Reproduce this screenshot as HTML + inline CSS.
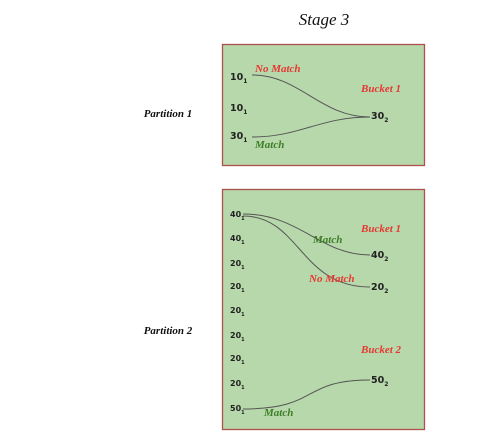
<!DOCTYPE html>
<html><head><meta charset="utf-8"><style>
html,body{margin:0;padding:0;background:#fff;width:501px;height:446px;overflow:hidden}
.sc{font-family:"Liberation Serif",serif;font-style:italic;font-weight:bold}
.n{font-family:"DejaVu Sans","Liberation Sans",sans-serif;font-weight:bold;fill:#222}
</style></head><body>
<svg width="501" height="446" viewBox="0 0 501 446">
<text x="324" y="25" text-anchor="middle" class="sc" font-size="17" fill="#111" style="font-weight:normal">Stage 3</text>
<text x="168" y="117" text-anchor="middle" class="sc" font-size="11" fill="#111">Partition 1</text>
<text x="168" y="334" text-anchor="middle" class="sc" font-size="11" fill="#111">Partition 2</text>

<g>
<rect x="222.5" y="44.5" width="202" height="121" fill="#b6d8aa" stroke="#b0504e" stroke-width="1.3"/>
<path d="M252 75 C300 75,320 117,370 117" fill="none" stroke="#555" stroke-width="1"/>
<path d="M252 137 C300 137,320 117,370 117" fill="none" stroke="#555" stroke-width="1"/>
<text x="230" y="80" class="n" font-size="9.5">10<tspan font-size="6" dy="3">1</tspan></text>
<text x="230" y="111" class="n" font-size="9.5">10<tspan font-size="6" dy="3">1</tspan></text>
<text x="230" y="139" class="n" font-size="9.5">30<tspan font-size="6" dy="3">1</tspan></text>
<text x="371" y="119" class="n" font-size="9.5">30<tspan font-size="6" dy="3">2</tspan></text>
<text x="255" y="72" class="sc" font-size="11" fill="#e53935">No Match</text>
<text x="255" y="148" class="sc" font-size="11" fill="#3f7d2a">Match</text>
<text x="361" y="92" class="sc" font-size="11" fill="#e53935">Bucket 1</text>
</g>

<g>
<rect x="222.5" y="189.5" width="202" height="240" fill="#b6d8aa" stroke="#b0504e" stroke-width="1.3"/>
<path d="M243 214 C300 214,320 255,370 255" fill="none" stroke="#555" stroke-width="1"/>
<path d="M243 216 C300 216,300 287,370 287" fill="none" stroke="#555" stroke-width="1"/>
<path d="M243 409 C320 409,300 380,370 380" fill="none" stroke="#555" stroke-width="1"/>
<text x="230" y="217" class="n" font-size="8">40<tspan font-size="5" dy="3">1</tspan></text>
<text x="230" y="241" class="n" font-size="8">40<tspan font-size="5" dy="3">1</tspan></text>
<text x="230" y="266" class="n" font-size="8">20<tspan font-size="5" dy="3">1</tspan></text>
<text x="230" y="289" class="n" font-size="8">20<tspan font-size="5" dy="3">1</tspan></text>
<text x="230" y="313" class="n" font-size="8">20<tspan font-size="5" dy="3">1</tspan></text>
<text x="230" y="338" class="n" font-size="8">20<tspan font-size="5" dy="3">1</tspan></text>
<text x="230" y="361" class="n" font-size="8">20<tspan font-size="5" dy="3">1</tspan></text>
<text x="230" y="386" class="n" font-size="8">20<tspan font-size="5" dy="3">1</tspan></text>
<text x="230" y="411" class="n" font-size="8">50<tspan font-size="5" dy="3">1</tspan></text>
<text x="371" y="258" class="n" font-size="9.5">40<tspan font-size="6" dy="3">2</tspan></text>
<text x="371" y="290" class="n" font-size="9.5">20<tspan font-size="6" dy="3">2</tspan></text>
<text x="371" y="383" class="n" font-size="9.5">50<tspan font-size="6" dy="3">2</tspan></text>
<text x="313" y="243" class="sc" font-size="11" fill="#3f7d2a">Match</text>
<text x="309" y="282" class="sc" font-size="11" fill="#e53935">No Match</text>
<text x="264" y="416" class="sc" font-size="11" fill="#3f7d2a">Match</text>
<text x="361" y="232" class="sc" font-size="11" fill="#e53935">Bucket 1</text>
<text x="361" y="353" class="sc" font-size="11" fill="#e53935">Bucket 2</text>
</g>
</svg>
</body></html>
